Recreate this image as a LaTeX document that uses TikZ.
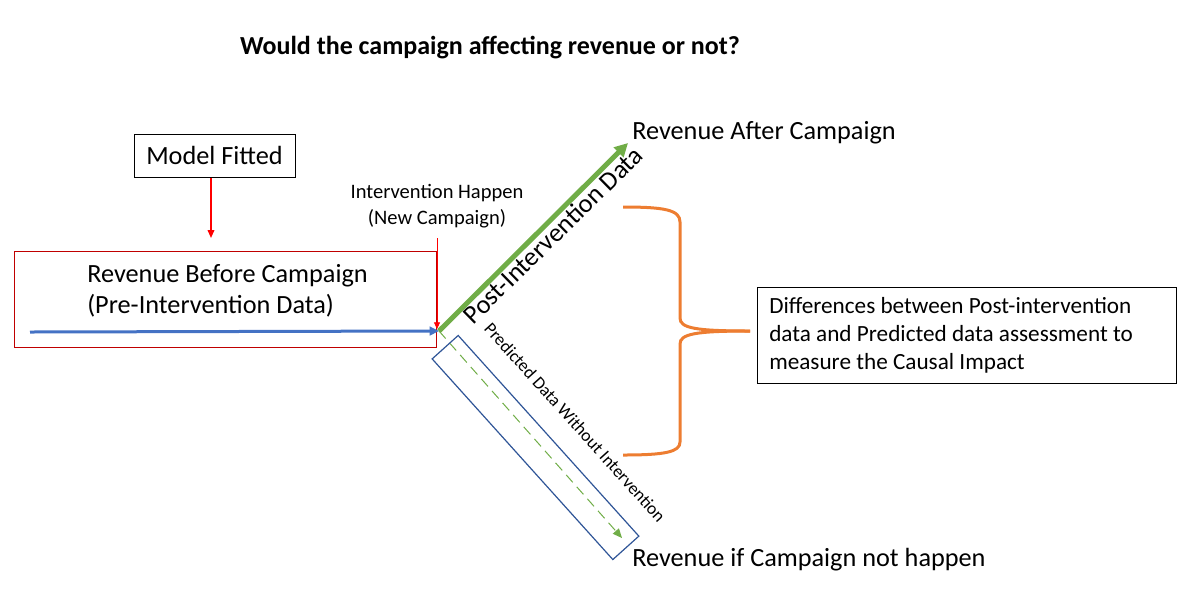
\documentclass[tikz,border=0pt]{standalone}
\usepackage{fontspec}
\setmainfont{Carlito}
\usetikzlibrary{arrows.meta}
\definecolor{dred}{HTML}{C00000}
\definecolor{mblue}{HTML}{4472C4}
\definecolor{rblue}{HTML}{2F5597}
\definecolor{mgreen}{HTML}{70AD47}
\definecolor{morange}{HTML}{ED7D31}
\tikzset{
  blackbox/.style={draw=black, line width=0.75pt, inner sep=0pt},
  bigtxt/.style={font=\fontsize{19.7}{23.25}\selectfont, inner sep=0pt},
  midtxt/.style={font=\fontsize{15.4}{19.5}\selectfont, inner sep=0pt, align=center},
}
\begin{document}
\begin{tikzpicture}[x=0.75pt,y=-0.75pt]
\useasboundingbox (0,0) rectangle (1184,594);
% title
\node[font=\bfseries\fontsize{19.5}{23}\selectfont, inner sep=0pt] (title) at (490,48) {Would the campaign affecting revenue or not?};
% model fitted
\node[blackbox, bigtxt, minimum width=120.75pt, minimum height=32.25pt] (model) at (214.5,155.5) {Model Fitted};
\coordinate (modelend) at (211,238);
\draw[red, line width=1.2pt, -{Triangle[length=6pt,width=5pt]}] (model.south -| modelend) -- (modelend);
% pre-intervention box
\node[draw=dred, line width=0.75pt, minimum width=316.5pt, minimum height=72pt] (prebox) at (225,299) {};
\node[bigtxt, anchor=base west, align=left] (pretxt) at (87,313) {Revenue Before Campaign\\(Pre-Intervention Data)};
\coordinate (bstart) at (30,332);
\coordinate (origin) at (439,331);
\draw[mblue, line width=2.25pt, -{Triangle[length=7pt,width=6.5pt]}] (bstart) -- (origin);
% intervention
\node[midtxt] (interv) at (437,206) {Intervention Happen\\(New Campaign)};
\coordinate (ivtop) at (437,238);
\coordinate (ivend) at (437,329);
\draw[red, line width=0.6pt, -{Triangle[length=5pt,width=4.5pt]}] (ivtop) -- (ivend);
% post-intervention arrow
\coordinate (gend) at (628,143);
\draw[mgreen, line width=3.75pt, -{Triangle[length=10pt,width=10pt]}] (origin) -- (gend);
\node[bigtxt, rotate=44.5] (posttxt) at (553,235) {Post-Intervention Data};
\node[bigtxt, anchor=west] (after) at (632,133) {Revenue After Campaign};
% predicted
\coordinate (pend) at (622,538);
\draw[mgreen, line width=0.75pt, dash pattern=on 7.5pt off 4.5pt, -{Triangle[length=7pt,width=6pt]}] (origin) -- (pend);
\node[draw=rblue, line width=0.9pt, minimum width=202.5pt, minimum height=26.25pt, rotate=-48] (predbox) at (535.5,447.5) {};
\node[font=\fontsize{13.2}{16}\selectfont, inner sep=0pt, rotate=-48] (predtxt) at (575,422.5) {Predicted Data Without Intervention};
\node[bigtxt, anchor=west] (notcamp) at (632,560) {Revenue if Campaign not happen};
% brace
\coordinate (btop) at (623,207);
\coordinate (btip) at (750,331);
\coordinate (bbot) at (623,455);
\draw[morange, line width=2.25pt]
  (btop) .. controls (665,207) and (680,210) .. (680,222) -- (680,318)
  .. controls (680,328) and (695,331) .. (btip);
\draw[morange, line width=2.25pt]
  (btip) .. controls (695,331) and (680,334) .. (680,344) -- (680,442)
  .. controls (680,452) and (665,455) .. (bbot);
% differences box
\node[blackbox, minimum width=314.25pt, minimum height=72pt] (diffbox) at (966.5,335) {};
\node[anchor=west, align=left, inner sep=0pt, font=\fontsize{17.4}{21}\selectfont] (difftxt) at (769,335) {Differences between Post-intervention\\data and Predicted data assessment to\\measure the Causal Impact};
\end{tikzpicture}
\end{document}
